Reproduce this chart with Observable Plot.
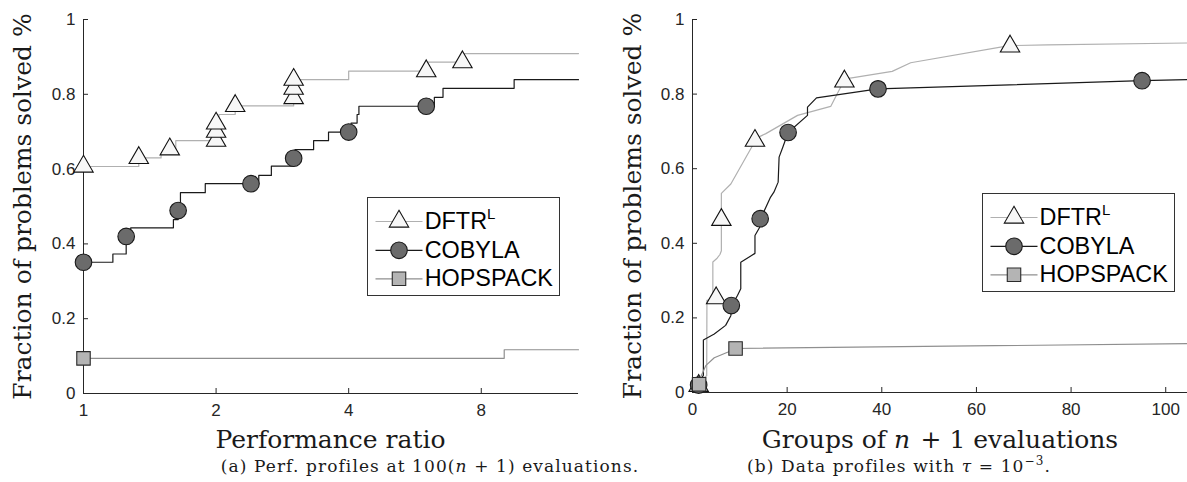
<!DOCTYPE html>
<html>
<head>
<meta charset="utf-8">
<script src="https://cdn.jsdelivr.net/npm/d3@7"></script>
<script src="https://cdn.jsdelivr.net/npm/@observablehq/plot@0.6"></script>
<style>
  body { margin: 0; background: #fff; }
  #wrap { position: relative; width: 1187px; height: 482px; overflow: hidden; background: #fff; }
  .panel { position: absolute; top: 0; }
  .lbl { position: absolute; white-space: nowrap; font-family: "DejaVu Serif", serif; line-height: 1; color: #1a1a1a; transform: translateX(-50%); }
  .cap { font-size: 17px; letter-spacing: 1.1px; }
  .xl { font-size: 25px; }
  .legend { position: absolute; border: 1px solid #333; background: #fff; box-sizing: border-box; width: 193px; height: 99px; }
  .legend svg { position: absolute; left: 0; top: 0; }
  .legend span { position: absolute; font-family: "Liberation Sans", Arial, sans-serif; font-size: 23.4px; line-height: 23.4px; color: #000; white-space: nowrap; }
  .legend sup { font-size: 15px; vertical-align: 10px; line-height: 0; }
</style>
</head>
<body>
<div id="wrap"></div>
<script>
// ---------- data ----------
const seriesNames = ["DFTR", "COBYLA", "HOPSPACK"];
const yTicks = [0, 0.2, 0.4, 0.6, 0.8, 1];
const perfTicksX = [1, 2, 4, 8];
const dataTicksX = [0, 20, 40, 60, 80, 100];
const perfXDomain = [1, 13.3];
const dataXDomain = [0, 104.6];
const yLabel = "Fraction of problems solved %";

// (a) performance profiles (step curves)
const perfDftrX = [1, 1.335, 1.50, 1.57, 1.62, 2.0, 2.01, 2.03, 2.21, 3.0, 3.01, 3.02, 4.0, 6.0, 7.25, 13.3];
const perfDftrY = [0.607, 0.630, 0.640, 0.653, 0.676, 0.700, 0.722, 0.746, 0.769, 0.790, 0.815, 0.839, 0.862, 0.886, 0.909, 0.909];
const perfDftrMarkX = [1, 1.335, 1.57, 2.0, 2.0, 2.0, 2.21, 3.0, 3.0, 3.0, 6.0, 7.25];
const perfDftrMarkY = [0.607, 0.630, 0.653, 0.676, 0.700, 0.722, 0.769, 0.790, 0.815, 0.839, 0.862, 0.886];

const perfCobylaX = [1, 1.166, 1.25, 1.28, 1.60, 1.64, 1.66, 1.89, 2.50, 2.67, 3.0, 3.02, 3.33, 3.60, 4.05, 4.18, 4.22, 6.26, 6.55, 9.5, 13.3];
const perfCobylaY = [0.351, 0.373, 0.420, 0.443, 0.465, 0.489, 0.537, 0.561, 0.583, 0.608, 0.629, 0.652, 0.676, 0.699, 0.723, 0.746, 0.768, 0.792, 0.816, 0.839, 0.839];
const perfCobylaMarkX = [1, 1.25, 1.64, 2.40, 3.0, 4.0, 6.0];
const perfCobylaMarkY = [0.351, 0.420, 0.489, 0.561, 0.629, 0.699, 0.768];

const perfHopsX = [1, 9.02, 13.3];
const perfHopsY = [0.094, 0.117, 0.117];
const perfHopsMarkX = [1];
const perfHopsMarkY = [0.094];

// (b) data profiles
const dataDftrX = [1.0, 2.5, 3.0, 3.05, 4.3, 4.3, 5.2, 5.8, 6.1, 6.1, 8.1, 12.7, 13.5, 15.5, 22.2, 29.2, 32.0, 33.0, 42.2, 46.1, 66.9, 75, 104.6];
const dataDftrY = [0.02, 0.04, 0.045, 0.247, 0.25, 0.35, 0.36, 0.37, 0.38, 0.534, 0.559, 0.662, 0.682, 0.694, 0.743, 0.767, 0.836, 0.842, 0.861, 0.884, 0.930, 0.932, 0.937];
const dataDftrMarkX = [1.3, 5.0, 6.1, 13.2, 32.1, 67.1];
const dataDftrMarkY = [0.018, 0.253, 0.463, 0.675, 0.834, 0.928];

const dataCobylaX = [0.8, 1.5, 2.3, 2.3, 4.6, 7.0, 8.1, 8.3, 9.5, 10.2, 10.2, 13.2, 13.2, 14.2, 14.4, 16.5, 17.2, 18.1, 18.3, 19.1, 20.2, 24.3, 24.3, 26.2, 39.2, 95.0, 104.6];
const dataCobylaY = [0.02, 0.03, 0.046, 0.141, 0.157, 0.18, 0.206, 0.233, 0.26, 0.278, 0.349, 0.373, 0.421, 0.443, 0.466, 0.524, 0.537, 0.564, 0.631, 0.658, 0.697, 0.743, 0.765, 0.790, 0.814, 0.836, 0.839];
const dataCobylaMarkX = [1.3, 8.2, 14.3, 20.2, 39.2, 95.0];
const dataCobylaMarkY = [0.02, 0.233, 0.466, 0.697, 0.814, 0.836];

const dataHopsX = [1.0, 1.5, 2.8, 4.6, 7.4, 9.1, 104.6];
const dataHopsY = [0.02, 0.035, 0.072, 0.093, 0.108, 0.118, 0.131];
const dataHopsMarkX = [1.4, 9.1];
const dataHopsMarkY = [0.022, 0.118];

// ---------- styles ----------
const axisColor = "#262626";
const sansFont = "Liberation Sans, Arial, sans-serif";
const styles = {
  DFTR:     {line: "#b0b0b0", fill: "#f7f7f7", symbol: "triangle", r: 7.2, mstroke: "#111"},
  COBYLA:   {line: "#1a1a1a", fill: "#6b6b6b", symbol: "circle",   r: 8.3, mstroke: "#1a1a1a"},
  HOPSPACK: {line: "#8f8f8f", fill: "#b4b4b4", symbol: "square",   r: 7.6, mstroke: "#2a2a2a"}
};
const rows = (xs, ys) => xs.map((x, i) => ({x, y: ys[i]}));
const fmt = d3.format("~g");

function seriesMarks(name, lx, ly, mx, my, curve) {
  const s = styles[name];
  return [
    Plot.line(rows(lx, ly), {x: "x", y: "y", curve, stroke: s.line, strokeWidth: 1.2}),
    Plot.dot(rows(mx, my), {x: "x", y: "y", symbol: s.symbol, r: s.r, fill: s.fill, stroke: s.mstroke, strokeWidth: 1.1})
  ];
}

function panel({width, marginLeft, marginRight, marginBottom, height, x, xTicks, series, curve, yLabelDx}) {
  const marginTop = 19;
  const innerH = height - marginTop - marginBottom;
  const innerW = width - marginLeft - marginRight;
  return Plot.plot({
    width, height, marginTop, marginBottom, marginLeft, marginRight,
    x: {...x, axis: null},
    y: {domain: [0, 1], axis: null},
    style: {fontFamily: sansFont, background: "transparent", overflow: "visible"},
    marks: [
      Plot.ruleY([0], {stroke: axisColor, strokeWidth: 1}),
      Plot.ruleX([x.domain[0]], {stroke: axisColor, strokeWidth: 1}),
      Plot.tickX(xTicks, {x: d => d, insetTop: innerH - 5, stroke: axisColor}),
      Plot.tickY(yTicks, {y: d => d, insetRight: innerW - 5, stroke: axisColor}),
      Plot.axisX(xTicks, {tickSize: 0, tickPadding: 10, tickFormat: fmt, fontSize: 17, fontFamily: sansFont, fill: axisColor, label: null}),
      Plot.axisY(yTicks, {tickSize: 0, tickPadding: 8, tickFormat: fmt, fontSize: 17, fontFamily: sansFont, fill: axisColor, label: null}),
      Plot.text([yLabel], {text: d => d, frameAnchor: "left", dx: yLabelDx, rotate: -90, textAnchor: "middle", lineAnchor: "middle",
                           fontFamily: "DejaVu Serif, serif", fontSize: 25, fill: "#1a1a1a"}),
      ...series.flatMap(([name, lx, ly, mx, my]) => seriesMarks(name, lx, ly, mx, my, curve))
    ]
  });
}

const wrap = document.getElementById("wrap");

const left = panel({
  width: 600, height: 455, marginLeft: 83, marginRight: 22, marginBottom: 62,
  x: {type: "log", base: 2, domain: perfXDomain},
  xTicks: perfTicksX, curve: "step-after", yLabelDx: -61,
  series: [
    ["DFTR", perfDftrX, perfDftrY, perfDftrMarkX, perfDftrMarkY],
    ["COBYLA", perfCobylaX, perfCobylaY, perfCobylaMarkX, perfCobylaMarkY],
    ["HOPSPACK", perfHopsX, perfHopsY, perfHopsMarkX, perfHopsMarkY]
  ]
});
const right = panel({
  width: 587, height: 455, marginLeft: 92, marginRight: 0, marginBottom: 63,
  x: {type: "linear", domain: dataXDomain},
  xTicks: dataTicksX, curve: "linear", yLabelDx: -60,
  series: [
    ["DFTR", dataDftrX, dataDftrY, dataDftrMarkX, dataDftrMarkY],
    ["COBYLA", dataCobylaX, dataCobylaY, dataCobylaMarkX, dataCobylaMarkY],
    ["HOPSPACK", dataHopsX, dataHopsY, dataHopsMarkX, dataHopsMarkY]
  ]
});

function place(el, leftPx) {
  const d = document.createElement("div");
  d.className = "panel";
  d.style.left = leftPx + "px";
  d.appendChild(el);
  wrap.appendChild(d);
}
place(left, 0);
place(right, 600);

function label(html, cls, cx, top) {
  const d = document.createElement("div");
  d.className = "lbl " + cls;
  d.style.left = cx + "px";
  d.style.top = top + "px";
  d.innerHTML = html;
  wrap.appendChild(d);
}
label("Performance ratio", "xl", 330.5, 426.5);
label("Groups of <i>n</i>&#8202; + 1 evaluations", "xl", 940, 426.5);
label("(a) Perf. profiles at 100(<i>n</i> + 1) evaluations.", "cap", 430, 457.5);
label("(b) Data profiles with <i>&tau;</i> = 10<sup style=\"font-size:12px;vertical-align:7px;line-height:0\">&minus;3</sup>.", "cap", 899, 457.5);

const legendLabels = {DFTR: "DFTR<sup>L</sup>", COBYLA: "COBYLA", HOPSPACK: "HOPSPACK"};
function legend(lx, ly) {
  const box = document.createElement("div");
  box.className = "legend";
  box.style.left = lx + "px";
  box.style.top = ly + "px";
  const rowY = [23.5, 52.3, 80.8];
  const svg = d3.create("svg").attr("width", 191).attr("height", 97);
  seriesNames.forEach((name, i) => {
    const s = styles[name];
    const y = rowY[i];
    svg.append("line").attr("x1", 7.5).attr("x2", 54.5).attr("y1", y).attr("y2", y)
      .attr("stroke", s.line).attr("stroke-width", 1.2);
    const sym = {triangle: d3.symbolTriangle, circle: d3.symbolCircle, square: d3.symbolSquare}[s.symbol];
    svg.append("path").attr("d", d3.symbol(sym, Math.PI * s.r * s.r)())
      .attr("transform", `translate(31,${y})`)
      .attr("fill", s.fill).attr("stroke", s.mstroke).attr("stroke-width", 1.1);
    const sp = document.createElement("span");
    sp.style.left = "57px";
    sp.style.top = (y - 11.4) + "px";
    sp.innerHTML = legendLabels[name];
    box.appendChild(sp);
  });
  box.insertBefore(svg.node(), box.firstChild);
  wrap.appendChild(box);
}
legend(366.7, 196.7);
legend(981.5, 193);
</script>
</body>
</html>
